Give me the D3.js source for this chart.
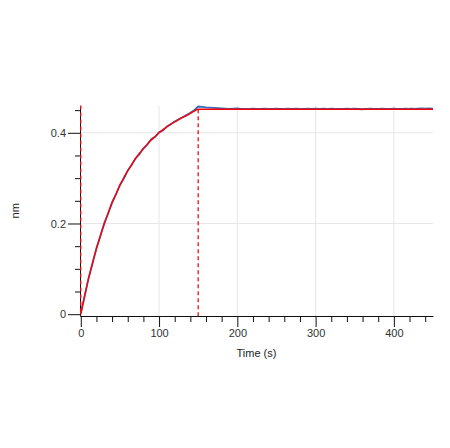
<!DOCTYPE html>
<html>
<head>
<meta charset="utf-8">
<script src="https://cdn.jsdelivr.net/npm/d3@7"></script>
<style>
  body { margin: 0; background: #fff; }
  text { font-family: "Liberation Sans", Arial, sans-serif; }
</style>
</head>
<body>
<div id="chart_div"></div>
<script>
// measured response (blue), sampled every 5 s
const rawTime = [
  0, 5, 10, 15, 20, 25, 30, 35, 40, 45, 50, 55, 60, 65, 70, 75, 80, 85, 90, 95,
  100, 105, 110, 115, 120, 125, 130, 135, 140, 145, 150, 155, 160, 165, 170, 175,
  180, 185, 190, 195, 200, 205, 210, 215, 220, 225, 230, 235, 240, 245, 250, 255,
  260, 265, 270, 275, 280, 285, 290, 295, 300, 305, 310, 315, 320, 325, 330, 335,
  340, 345, 350, 355, 360, 365, 370, 375, 380, 385, 390, 395, 400, 405, 410, 415,
  420, 425, 430, 435, 440, 445, 450
];
const rawNm = [
  0.002, 0.040, 0.080, 0.112, 0.146, 0.172, 0.201, 0.222, 0.247, 0.264, 0.285, 0.299,
  0.317, 0.329, 0.344, 0.353, 0.366, 0.374, 0.386, 0.391, 0.401, 0.405, 0.414, 0.419,
  0.425, 0.430, 0.434, 0.439, 0.444, 0.450, 0.458, 0.457, 0.456, 0.4555, 0.455, 0.4545,
  0.454, 0.4535, 0.453, 0.4535, 0.454, 0.453, 0.4525, 0.453, 0.4535, 0.4525, 0.453, 0.4535,
  0.453, 0.4525, 0.453, 0.4525, 0.453, 0.4535, 0.4525, 0.453, 0.4525, 0.453, 0.4535, 0.4525,
  0.453, 0.4525, 0.453, 0.4525, 0.4535, 0.453, 0.4525, 0.453, 0.4535, 0.4525, 0.453, 0.4525,
  0.452, 0.453, 0.4535, 0.4525, 0.453, 0.4535, 0.453, 0.4525, 0.4535, 0.453, 0.4525, 0.4535,
  0.453, 0.453, 0.4535, 0.454, 0.4535, 0.454, 0.4535
];

// fitted curve (red)
const fitTime = [
  0, 5, 10, 15, 20, 25, 30, 35, 40, 45, 50, 55, 60, 65, 70, 75, 80, 85, 90, 95,
  100, 105, 110, 115, 120, 125, 130, 135, 140, 145, 150, 300, 450
];
const fitNm = [
  0.000, 0.041, 0.079, 0.113, 0.144, 0.173, 0.199, 0.223, 0.245, 0.265, 0.284, 0.301,
  0.316, 0.330, 0.343, 0.355, 0.365, 0.375, 0.384, 0.392, 0.400, 0.407, 0.413, 0.419,
  0.424, 0.429, 0.434, 0.438, 0.443, 0.448, 0.452, 0.452, 0.452
];

// phase markers
const phaseMarks = [0, 150];

const xMajor = [0, 100, 200, 300, 400];
const xMinor = [20, 40, 60, 80, 120, 140, 160, 180, 220, 240, 260, 280, 320, 340, 360, 380, 420, 440];
const yMajor = [0, 0.2, 0.4];
const yMinor = [0.05, 0.1, 0.15, 0.25, 0.3, 0.35, 0.45];

const width = 450, height = 448;

const svg = d3.select("#chart_div")
  .append("svg")
  .attr("width", width)
  .attr("height", height);

const x = d3.scaleLinear().domain([-1, 450]).range([80, 433]);
const y = d3.scaleLinear().domain([-0.004, 0.46]).range([316, 105.6]);

// grid
svg.append("g")
  .selectAll("line.vgrid")
  .data(xMajor.slice(1))
  .join("line")
    .attr("x1", d => x(d)).attr("x2", d => x(d))
    .attr("y1", y(0.46)).attr("y2", y(-0.004))
    .attr("stroke", "#e6e6e6");
svg.append("g")
  .selectAll("line.hgrid")
  .data(yMajor.slice(1))
  .join("line")
    .attr("x1", x(-1)).attr("x2", x(450))
    .attr("y1", d => y(d)).attr("y2", d => y(d))
    .attr("stroke", "#e6e6e6");

// x axis
const xAxisG = svg.append("g").attr("transform", `translate(0,${y(-0.004)})`);
xAxisG.call(d3.axisBottom(x).tickValues(xMajor).tickSize(11).tickSizeOuter(0).tickPadding(2));
const xMinorG = svg.append("g").attr("transform", `translate(0,${y(-0.004)})`);
xMinorG.call(d3.axisBottom(x).tickValues(xMinor).tickSize(6).tickFormat(""));
xMinorG.select(".domain").remove();

// y axis
const yAxisG = svg.append("g").attr("transform", `translate(${x(-1)},0)`);
yAxisG.call(d3.axisLeft(y).tickValues(yMajor).tickSize(12).tickSizeOuter(0).tickPadding(2)
  .tickFormat(d => d === 0 ? "0" : d3.format(".1f")(d)));
const yMinorG = svg.append("g").attr("transform", `translate(${x(-1)},0)`);
yMinorG.call(d3.axisLeft(y).tickValues(yMinor).tickSize(5).tickFormat(""));
yMinorG.select(".domain").remove();

svg.selectAll(".tick line, .domain").attr("stroke", "#111").attr("stroke-width", 1);
svg.selectAll(".tick text")
  .attr("font-size", 11)
  .attr("fill", "#333")
  .attr("font-family", "Liberation Sans, Arial, sans-serif");

// axis labels
svg.append("text")
  .attr("text-anchor", "middle")
  .attr("x", (x(-1) + x(450)) / 2)
  .attr("y", 357)
  .attr("font-size", 11)
  .attr("fill", "#222")
  .text("Time (s)");

svg.append("text")
  .attr("text-anchor", "middle")
  .attr("transform", `translate(19,${(y(0.46) + y(-0.004)) / 2}) rotate(-90)`)
  .attr("font-size", 11)
  .attr("fill", "#222")
  .text("nm");

// measured data
const rawPts = rawTime.map((t, i) => ({t: t, v: rawNm[i]}));
svg.append("path")
  .datum(rawPts)
  .attr("fill", "none")
  .attr("stroke", "#2f6dbd")
  .attr("stroke-width", 1.8)
  .attr("d", d3.line().x(d => x(d.t)).y(d => y(d.v)));

// fit
const fitPts = fitTime.map((t, i) => ({t: t, v: fitNm[i]}));
svg.append("path")
  .datum(fitPts)
  .attr("fill", "none")
  .attr("stroke", "#ff0000")
  .attr("stroke-width", 1.4)
  .attr("d", d3.line().curve(d3.curveMonotoneX).x(d => x(d.t)).y(d => y(d.v)));

// phase markers (dashed)
svg.append("g")
  .selectAll("line.phase")
  .data(phaseMarks)
  .join("line")
    .attr("x1", d => x(d)).attr("x2", d => x(d))
    .attr("y1", d => d === 0 ? y(0.46) : y(0.452))
    .attr("y2", y(-0.004))
    .attr("stroke", "#ee1111")
    .attr("stroke-width", 1.3)
    .attr("stroke-dasharray", "4,3");
</script>
</body>
</html>
